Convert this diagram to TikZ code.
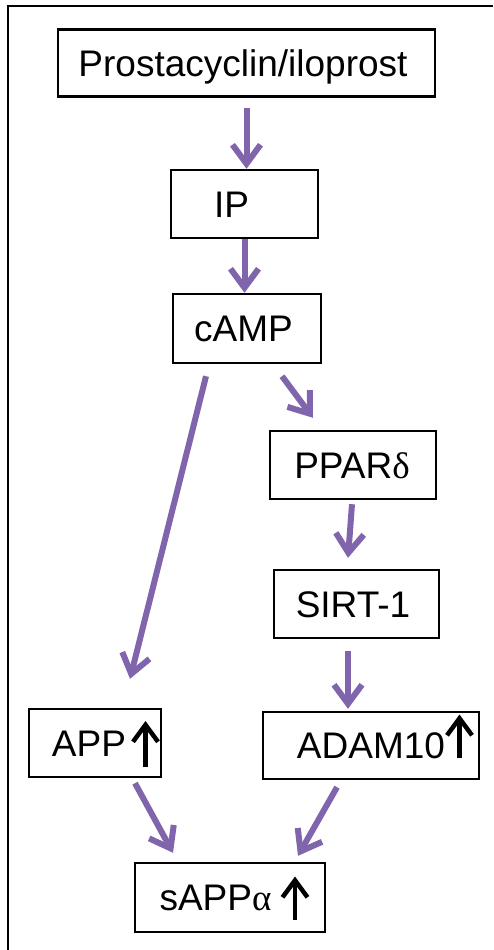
\documentclass[tikz,border=0pt]{standalone}
\usepackage{fontspec}
\setmainfont{Liberation Sans}
\newfontfamily\greekfont{Liberation Serif}
\usetikzlibrary{arrows.meta}
\definecolor{flowpurple}{RGB}{128,100,172}
\tikzset{
  box/.style={draw=black, line width=2.4pt, inner sep=0pt, text height=26.5pt, text depth=0pt,
    font=\fontsize{37}{42}\selectfont},
  flow/.style={draw=flowpurple, line width=6pt, -{Straight Barb[length=19pt,width=28pt]}},
  uparrow/.style={draw=black, line width=4.5pt, -{Straight Barb[length=17pt,width=25pt]}}
}
\begin{document}
\begin{tikzpicture}[x=1pt,y=-1pt]
\useasboundingbox (0,0) rectangle (493,950);
\draw[line width=2.8pt] (8,950) -- (8,6) -- (493,6);

\node[box, minimum width=377pt, minimum height=67pt] (prost) at (246.5,63) {\kern-7pt Prostacyclin/iloprost};
\node[box, minimum width=147pt, minimum height=68pt] (ip) at (244.5,204) {\kern-26pt IP};
\node[box, minimum width=148pt, minimum height=69pt] (camp) at (247,328.5) {\kern-7pt cAMP};
\node[box, minimum width=166pt, minimum height=68pt] (ppar) at (353,465) {\kern-2pt PPAR{\greekfont δ}};
\node[box, minimum width=165pt, minimum height=68pt] (sirt) at (356.5,604) {\kern-7pt SIRT-1};
\node[box, minimum width=132pt, minimum height=68pt] (app) at (95,743) {\kern-12pt APP};
\node[box, minimum width=216pt, minimum height=67pt] (adam) at (371,745.5) {ADAM10};
\node[box, minimum width=190pt, minimum height=69pt] (sapp) at (230,897.5) {\kern-29pt sAPP{\greekfont α}};

% up arrows (increase marks)
\draw[uparrow] ([shift={(50.5pt,-24pt)}]app.center) -- ([shift={(50.5pt,22pt)}]app.center);
\draw[uparrow] ([shift={(88.5pt,-12.5pt)}]adam.center) -- ([shift={(88.5pt,31pt)}]adam.center);
\draw[uparrow] ([shift={(65pt,-22.5pt)}]sapp.center) -- ([shift={(65pt,21pt)}]sapp.center);

\draw[flow] ([yshift=-10pt]prost.south) -- (prost.south |- ip.north);
\draw[flow] (ip.south) -- (ip.south |- camp.north);
\draw[flow] ([shift={(-41pt,-12pt)}]camp.south) -- ([shift={(35pt,29pt)}]app.north);
\draw[flow] ([shift={(35pt,-12pt)}]camp.south) -- ([shift={(-40pt,12pt)}]ppar.north);
\draw[flow] ([shift={(-1pt,-4pt)}]ppar.south) -- ([shift={(-8.5pt,11pt)}]sirt.north);
\draw[flow] ([shift={(-8.5pt,-12pt)}]sirt.south) -- ([shift={(-23pt,2pt)}]adam.north);
\draw[flow] ([shift={(40pt,-5pt)}]app.south) -- ([shift={(-57pt,9pt)}]sapp.north);
\draw[flow] ([shift={(-34pt,-7pt)}]adam.south) -- ([shift={(68pt,6pt)}]sapp.north);
\end{tikzpicture}
\end{document}
